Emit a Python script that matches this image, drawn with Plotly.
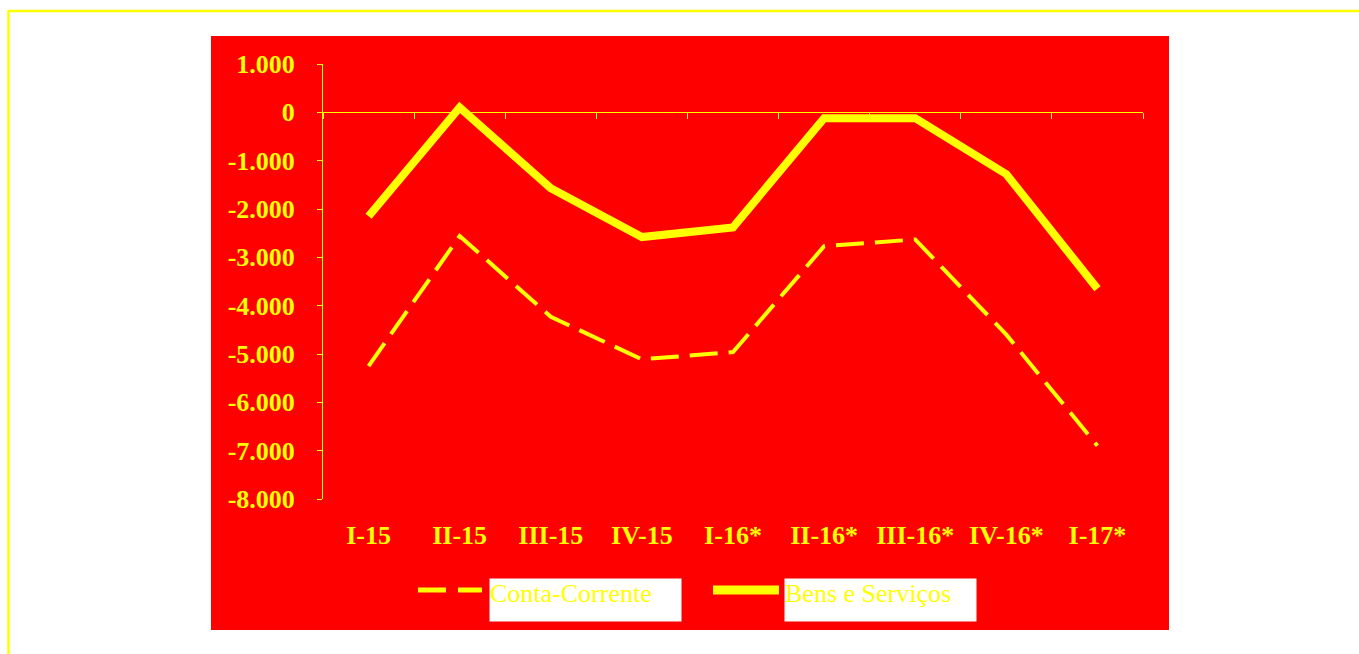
import plotly.graph_objects as go

# Quarterly balances (millions), starred quarters are projections
quarters = ["I-15", "II-15", "III-15", "IV-15", "I-16*", "II-16*", "III-16*", "IV-16*", "I-17*"]
conta_corrente = [-5250, -2560, -4230, -5110, -4960, -2770, -2630, -4600, -6900]
bens_servicos = [-2150, 100, -1570, -2580, -2380, -120, -120, -1280, -3650]

y_tickvals = [1000, 0, -1000, -2000, -3000, -4000, -5000, -6000, -7000, -8000]
y_ticktext = ["1.000", "0", "-1.000", "-2.000", "-3.000", "-4.000", "-5.000", "-6.000", "-7.000", "-8.000"]
series_names = ["Conta-Corrente", "Bens e Serviços"]

YELLOW = "#FFFF00"
RED = "#FF0000"
FONT = "Liberation Serif"

W, H = 1359, 654
ML, MR, MT, MB = 323, 216, 64, 155
PW, PH = W - ML - MR, H - MT - MB
Y_MIN, Y_MAX = -8000, 1000


def px_x(px):
    return (px - ML) / PW


def px_y(py):
    return (H - MB - py) / PH


fig = go.Figure()
fig.add_trace(go.Scatter(
    x=quarters, y=conta_corrente, mode="lines", name=series_names[0],
    line=dict(color=YELLOW, width=4, dash="28px,11px"),
))
fig.add_trace(go.Scatter(
    x=quarters, y=bens_servicos, mode="lines", name=series_names[1],
    line=dict(color=YELLOW, width=8),
))

shapes = [
    # red panel behind the chart
    dict(type="rect", xref="paper", yref="paper", layer="below",
         x0=px_x(211), x1=px_x(1169), y0=px_y(630), y1=px_y(36),
         fillcolor=RED, line=dict(width=0)),
    # yellow frame (top and left edges)
    dict(type="line", xref="paper", yref="paper",
         x0=px_x(8), x1=px_x(W + 2), y0=px_y(11), y1=px_y(11),
         line=dict(color=YELLOW, width=2.5)),
    dict(type="line", xref="paper", yref="paper",
         x0=px_x(8.5), x1=px_x(8.5), y0=px_y(10), y1=px_y(H + 2),
         line=dict(color=YELLOW, width=2.5)),
    # legend keys
    dict(type="line", xref="paper", yref="paper",
         x0=px_x(418), x1=px_x(482), y0=px_y(590), y1=px_y(590),
         line=dict(color=YELLOW, width=5, dash="28px,12px")),
    dict(type="line", xref="paper", yref="paper",
         x0=px_x(713), x1=px_x(779), y0=px_y(590), y1=px_y(590),
         line=dict(color=YELLOW, width=9)),
]

annotations = [
    dict(xref="paper", yref="paper", x=px_x(489), y=px_y(578),
         xanchor="left", yanchor="top", showarrow=False,
         text=series_names[0], align="left", valign="top",
         width=191, height=42, bgcolor="white", borderpad=0,
         font=dict(family=FONT, size=26, color=YELLOW)),
    dict(xref="paper", yref="paper", x=px_x(784), y=px_y(578),
         xanchor="left", yanchor="top", showarrow=False,
         text=series_names[1], align="left", valign="top",
         width=191, height=42, bgcolor="white", borderpad=0,
         font=dict(family=FONT, size=26, color=YELLOW)),
]

zero_pos = (0 - Y_MIN) / (Y_MAX - Y_MIN)

fig.update_layout(
    width=W, height=H,
    margin=dict(l=ML, r=MR, t=MT, b=MB, pad=0),
    paper_bgcolor="white",
    plot_bgcolor="rgba(0,0,0,0)",
    showlegend=False,
    shapes=shapes,
    annotations=annotations,
    xaxis=dict(
        type="category", categoryorder="array", categoryarray=quarters,
        range=[-0.5, len(quarters) - 0.5],
        anchor="free", position=zero_pos,
        showline=True, linecolor=YELLOW, linewidth=1,
        ticks="outside", tickson="boundaries", ticklen=6, tickwidth=1, tickcolor=YELLOW,
        ticklabelstandoff=399,
        showgrid=False, zeroline=False,
        tickfont=dict(family=FONT, size=26, color=YELLOW, weight="bold"),
    ),
    yaxis=dict(
        range=[Y_MIN, Y_MAX],
        tickvals=y_tickvals, ticktext=y_ticktext,
        showline=True, linecolor=YELLOW, linewidth=1,
        ticks="outside", ticklen=5, tickwidth=1, tickcolor=YELLOW,
        ticklabelstandoff=17,
        showgrid=False, zeroline=False,
        tickfont=dict(family=FONT, size=26, color=YELLOW, weight="bold"),
    ),
)

fig.write_html("out.html")
